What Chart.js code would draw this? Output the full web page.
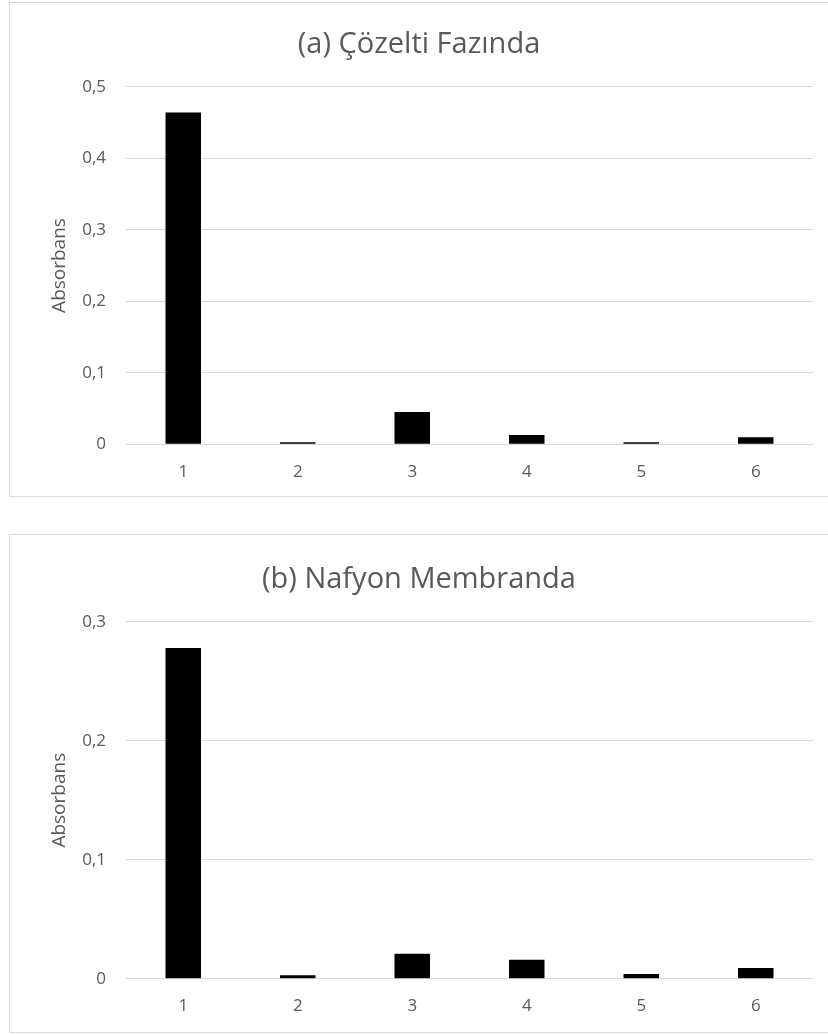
<!DOCTYPE html>
<html>
<head>
<meta charset="utf-8">
<script src="https://cdn.jsdelivr.net/npm/chart.js@4.4.1/dist/chart.umd.min.js"></script>
<style>
  html, body { margin: 0; padding: 0; background: #ffffff; }
  body { width: 828px; height: 1035px; position: relative; overflow: hidden; }
  .panel { position: absolute; left: 9px; width: 830px; border: 1px solid #d9d9d9; background: #fff; }
  .panel canvas { position: absolute; left: 0; top: 0; }
</style>
</head>
<body>
<div class="panel" id="panelA" style="top:2px;height:493px;"><canvas id="chartA" width="818" height="493"></canvas></div>
<div class="panel" id="panelB" style="top:534px;height:497px;"><canvas id="chartB" width="818" height="497"></canvas></div>
<script>
// Sample numbers on the x axis
const categories = ['1', '2', '3', '4', '5', '6'];

// Absorbance readings
const solutionPhase = [0.464, 0.003, 0.045, 0.013, 0.003, 0.010];
const nafionMembrane = [0.278, 0.003, 0.021, 0.016, 0.004, 0.009];

// Y axis tick labels (decimal comma)
const yTicksA = ['0', '0,1', '0,2', '0,3', '0,4', '0,5'];
const yTicksB = ['0', '0,1', '0,2', '0,3'];

const titleA = '(a) Çözelti Fazında';
const titleB = '(b) Nafyon Membranda';
const yTitle = 'Absorbans';

const FONT = "'Open Sans', 'Noto Sans', sans-serif";
const GREY = '#595959';

function buildChart(canvasId, values, yTicks, title, layout) {
  const yMax = (yTicks.length - 1) * 0.1;
  return new Chart(document.getElementById(canvasId), {
    type: 'bar',
    data: {
      labels: categories,
      datasets: [{
        data: values,
        backgroundColor: '#000000',
        borderColor: '#000000',
        borderWidth: 0,
        barPercentage: 0.31,
        categoryPercentage: 1.0
      }]
    },
    options: {
      responsive: false,
      animation: false,
      devicePixelRatio: 1,
      layout: { padding: 0 },
      plugins: {
        legend: { display: false },
        tooltip: { enabled: false },
        title: {
          display: true,
          text: title,
          color: GREY,
          font: { family: FONT, size: 29, weight: 'normal', lineHeight: 1.2 },
          padding: { top: layout.titleTop, bottom: layout.titleBottom }
        }
      },
      scales: {
        x: {
          grid: { display: false, drawTicks: false },
          border: { display: false },
          ticks: {
            color: GREY,
            font: { family: FONT, size: 17 },
            padding: 17.5
          },
          afterFit: (scale) => { scale.height = layout.xHeight; }
        },
        y: {
          min: 0,
          max: yMax,
          grid: { color: '#d9d9d9', lineWidth: 1, drawTicks: false },
          border: { display: false },
          ticks: {
            stepSize: 0.1,
            color: GREY,
            font: { family: FONT, size: 17 },
            padding: 20,
            callback: (v, i) => yTicks[i]
          },
          title: {
            display: true,
            text: yTitle,
            color: GREY,
            font: { family: FONT, size: 19 },
            padding: { top: 38.6, bottom: 0 }
          },
          afterFit: (scale) => { scale.width = 116; }
        },
        // empty right-hand margin so the title stays centred on the whole panel
        yRight: {
          type: 'linear',
          display: true,
          position: 'right',
          grid: { display: false, drawTicks: false },
          border: { display: false },
          ticks: { display: false },
          afterFit: (scale) => { scale.width = 15; }
        }
      }
    }
  });
}

buildChart('chartA', solutionPhase, yTicksA, titleA, { titleTop: 24.6, titleBottom: 24.3, xHeight: 51.7 });
buildChart('chartB', nafionMembrane, yTicksB, titleB, { titleTop: 27.6, titleBottom: 24.3, xHeight: 53.3 });
</script>
</body>
</html>
